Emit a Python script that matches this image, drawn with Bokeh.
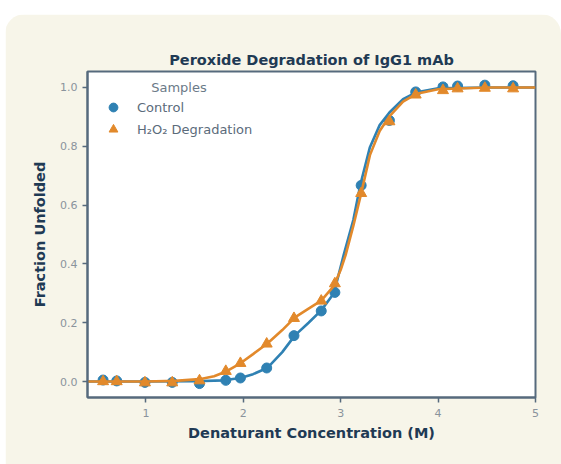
import math
from bokeh.plotting import figure
from bokeh.models import Legend, LegendItem, Label, Range1d, FixedTicker, CustomJSTickFormatter
from bokeh.embed import file_html
from bokeh.resources import INLINE

# ---- data ----
conc = [0.56, 0.70, 0.99, 1.27, 1.55, 1.82, 1.97, 2.24, 2.52, 2.80, 2.94, 3.21, 3.50, 3.77, 4.05, 4.20, 4.48, 4.77]
control = [0.005, 0.002, -0.003, -0.003, -0.007, 0.004, 0.012, 0.046, 0.156, 0.240, 0.303, 0.667, 0.888, 0.985, 1.002, 1.005, 1.008, 1.006]
h2o2 = [0.000, 0.000, -0.004, -0.004, 0.003, 0.035, 0.062, 0.128, 0.215, 0.274, 0.333, 0.640, 0.884, 0.975, 0.990, 0.996, 0.998, 0.996]

# fitted curves
fit_x_control = [0.40, 1.00, 1.50, 1.80, 1.97, 2.10, 2.25, 2.40, 2.53, 2.67, 2.80, 2.93, 3.03, 3.13, 3.20, 3.30, 3.40, 3.50, 3.64, 3.78, 4.00, 4.50, 5.00]
fit_y_control = [0.000, 0.000, 0.001, 0.004, 0.012, 0.025, 0.047, 0.100, 0.157, 0.200, 0.242, 0.300, 0.430, 0.550, 0.667, 0.797, 0.872, 0.915, 0.960, 0.984, 0.997, 1.000, 1.000]
fit_x_h2o2 = [0.40, 1.00, 1.30, 1.55, 1.70, 1.83, 1.97, 2.10, 2.25, 2.40, 2.53, 2.67, 2.80, 2.93, 3.00, 3.05, 3.13, 3.21, 3.30, 3.40, 3.50, 3.64, 3.78, 4.00, 4.50, 5.00]
fit_y_h2o2 = [0.000, 0.000, 0.002, 0.008, 0.018, 0.035, 0.062, 0.093, 0.130, 0.175, 0.218, 0.248, 0.275, 0.325, 0.380, 0.430, 0.530, 0.640, 0.770, 0.852, 0.902, 0.952, 0.979, 0.994, 1.000, 1.000]

x_ticks = [1, 2, 3, 4, 5]
y_ticks = [0.0, 0.2, 0.4, 0.6, 0.8, 1.0]

title_text = "Peroxide Degradation of IgG1 mAb"
x_label = "Denaturant Concentration (M)"
y_label = "Fraction Unfolded"
series_names = ["Control", "H\u2082O\u2082 Degradation"]
legend_title = "Samples"

BLUE = "#2f81b3"
ORANGE = "#e2892b"
CARD = "#f7f5e9"
DARK = "#1f3a54"
AXIS = "#566a7d"
TICK_TXT = "#8a939c"
FONT = "DejaVu Sans"

p = figure(width=556, height=450, output_backend="svg", toolbar_location=None,
           x_range=Range1d(0.4, 5.0), y_range=Range1d(-0.0544, 1.0544),
           min_border_left=82, min_border_right=26, min_border_top=57, min_border_bottom=67,
           background_fill_color="white", border_fill_color=CARD)
p.margin = (14, 0, 0, 5)
p.styles = {"border-radius": "20px 20px 0 0", "overflow": "hidden"}

p.title.text = title_text
p.title.align = "center"
p.title.text_font = FONT
p.title.text_font_size = "14.5px"
p.title.text_font_style = "bold"
p.title.text_color = DARK
p.title.standoff = 8

p.outline_line_color = AXIS
p.outline_line_width = 2
p.xgrid.visible = False
p.ygrid.visible = False

for ax in (p.xaxis[0], p.yaxis[0]):
    ax.axis_line_color = AXIS
    ax.axis_line_width = 2
    ax.major_tick_line_color = AXIS
    ax.major_tick_line_width = 1.5
    ax.major_tick_out = 5
    ax.major_tick_in = 0
    ax.minor_tick_line_color = None
    ax.major_label_text_font = FONT
    ax.major_label_text_font_size = "11px"
    ax.major_label_text_color = TICK_TXT
    ax.axis_label_text_font = FONT
    ax.axis_label_text_font_size = "14.5px"
    ax.axis_label_text_font_style = "bold"
    ax.axis_label_text_color = DARK

p.xaxis.ticker = FixedTicker(ticks=x_ticks)
p.yaxis.ticker = FixedTicker(ticks=y_ticks)
p.yaxis.formatter = CustomJSTickFormatter(code="return tick.toFixed(1)")
p.xaxis.axis_label = x_label
p.yaxis.axis_label = y_label
p.xaxis.major_label_standoff = 6
p.yaxis.major_label_standoff = 5
p.xaxis.axis_label_standoff = 5
p.yaxis.axis_label_standoff = 9

p.line(fit_x_control, fit_y_control, line_color=BLUE, line_width=2.6)
c_r = p.scatter(conc, control, marker="circle", size=10, fill_color=BLUE, line_color=BLUE)
p.line(fit_x_h2o2, fit_y_h2o2, line_color=ORANGE, line_width=2.6)
h_r = p.scatter(conc, h2o2, marker="triangle", size=11, fill_color=ORANGE, line_color=ORANGE)

legend = Legend(items=[LegendItem(label=series_names[0], renderers=[c_r]),
                       LegendItem(label=series_names[1], renderers=[h_r])],
                location=(7, 249), orientation="vertical", padding=8, spacing=0,
                glyph_width=22, glyph_height=22, label_standoff=13,
                background_fill_alpha=0, border_line_alpha=0,
                label_text_font=FONT, label_text_font_size="13px",
                label_text_color="#5b6b7b")
p.add_layout(legend)

p.add_layout(Label(x=1.339, y=0.999, text=legend_title, text_align="center",
                   text_baseline="middle", text_font=FONT, text_font_size="13px",
                   text_color="#6b7a88"))

open("out.html", "w").write(file_html(p, INLINE))
